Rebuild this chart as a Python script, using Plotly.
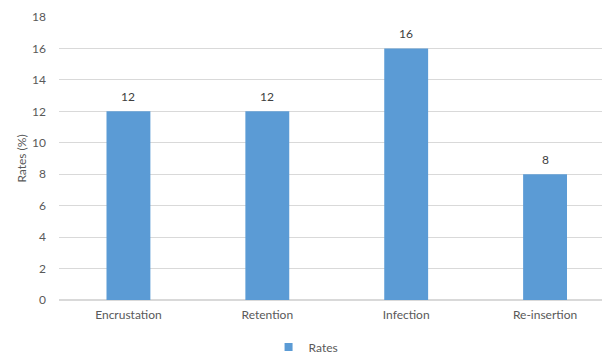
import plotly.graph_objects as go

categories = ["Encrustation", "Retention", "Infection", "Re-insertion"]
rates = [12, 12, 16, 8]
y_ticks = [0, 2, 4, 6, 8, 10, 12, 14, 16, 18]

BAR = "#5B9BD5"
TXT = "#595959"
GRID = "#D9D9D9"
FONT = "Lato, 'Open Sans', sans-serif"

fig = go.Figure()
fig.add_trace(go.Bar(
    x=categories, y=rates, name="Rates", showlegend=False,
    marker=dict(color=BAR, line=dict(width=0)),
    width=0.316,
))
# legend entry drawn as a small square swatch
fig.add_trace(go.Scatter(
    x=[None], y=[None], mode="markers", name="Rates",
    marker=dict(symbol="square", size=8, color=BAR),
))

# value labels above each bar
for c, v in zip(categories, rates):
    fig.add_annotation(
        x=c, y=v, text=str(v), showarrow=False,
        yanchor="bottom", yshift=5,
        font=dict(family=FONT, size=12, color="#404040"),
    )

fig.update_layout(
    width=602, height=355,
    margin=dict(l=58.5, r=0, t=17, b=55, autoexpand=False),
    paper_bgcolor="white", plot_bgcolor="white",
    font=dict(family=FONT, size=12, color=TXT),
    showlegend=True,
    legend=dict(
        orientation="h", x=0.455, xanchor="center", y=-0.115, yanchor="top",
        font=dict(family=FONT, size=12, color=TXT),
        itemwidth=30,
    ),
    xaxis=dict(
        range=[-0.5, 3.41], showgrid=False, showline=False, zeroline=False,
        ticks="", ticklabelstandoff=6,
        tickfont=dict(family=FONT, size=12, color=TXT),
    ),
    yaxis=dict(
        range=[0, 18], tickvals=y_ticks, showgrid=True, gridcolor=GRID,
        gridwidth=1, zeroline=True, zerolinecolor=GRID, zerolinewidth=1.5,
        showline=False, ticks="", ticklabelstandoff=12,
        tickfont=dict(family=FONT, size=12, color=TXT),
        title=dict(text="Rates (%)", standoff=2,
                   font=dict(family=FONT, size=12, color=TXT)),
    ),
)

fig.write_html("out.html")
